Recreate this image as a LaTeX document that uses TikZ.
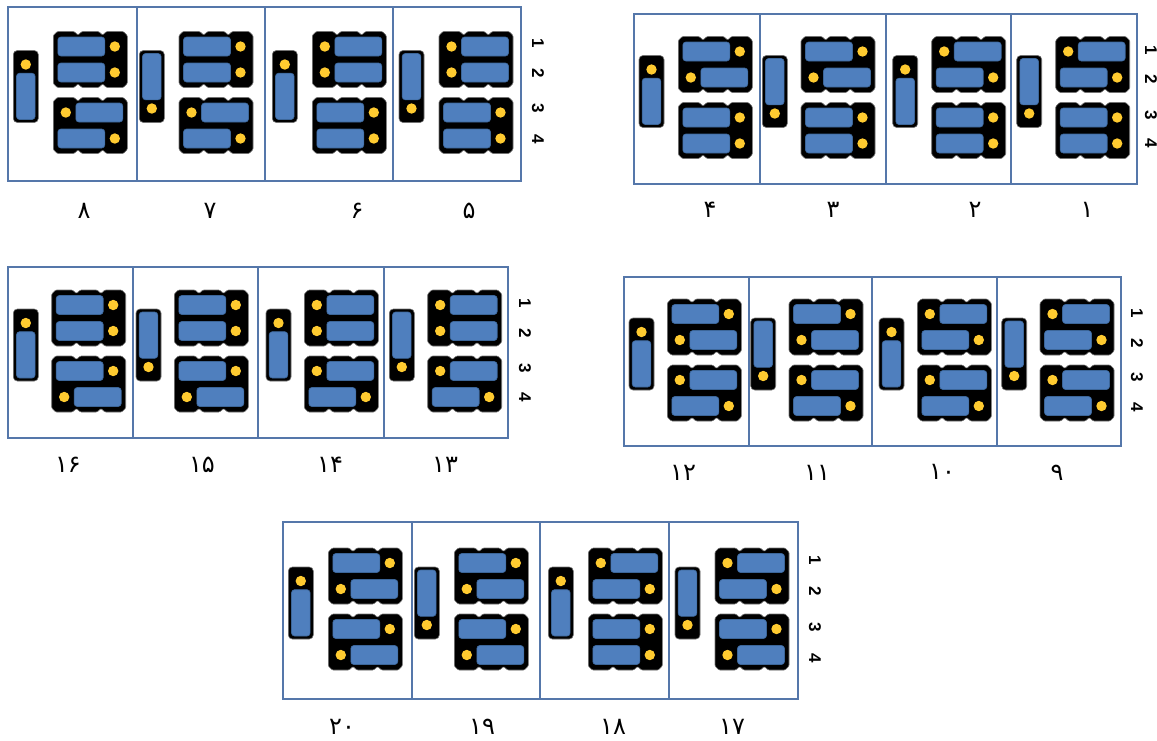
\documentclass[tikz,border=0pt]{standalone}
\usepackage{fontspec}
\setmainfont{Liberation Sans}
\newfontfamily\fa[Script=Arabic]{DejaVu Sans}
\definecolor{pbord}{HTML}{5577AA}
\definecolor{bblue}{HTML}{4F7FBE}
\definecolor{bedge}{HTML}{3C6699}
\definecolor{ydot}{HTML}{FFCB30}
\tikzset{
 panel/.style={draw=pbord, line width=1.2pt},
 hdr/.style={fill=black, draw=black!55, line width=0.6pt, rounded corners=1pt},
 bar/.style={fill=bblue, draw=bedge, line width=0.6pt, rounded corners=3pt},
 pin/.style={fill=ydot},
 rlab/.style={font=\bfseries\fontsize{17}{17}\selectfont, rotate=-90, inner sep=0pt},
 clab/.style={font=\fa\fontsize{24}{24}\selectfont, inner sep=0pt},
}
\newcommand\jmpT[2]{%
 \path[hdr, rounded corners=4pt] (#1,#2-36) rectangle (#1+25,#2+36);
 \path[bar] (#1+3.2,#2-13.3) rectangle (#1+21.8,#2+33);
 \fill[pin] (#1+12.5,#2-22) circle[radius=5.2];
}
\newcommand\jmpB[2]{%
 \path[hdr, rounded corners=4pt] (#1,#2-36) rectangle (#1+25,#2+36);
 \path[bar] (#1+3.2,#2-33) rectangle (#1+21.8,#2+13.3);
 \fill[pin] (#1+12.5,#2+22) circle[radius=5.2];
}
\newcommand\rowR[2]{%
 \path[bar] (#1+4.5,#2-9.5) rectangle (#1+51.5,#2+9.5);
 \fill[pin] (#1+61.5,#2) circle[radius=5.2];
}
\newcommand\rowL[2]{%
 \fill[pin] (#1+12.5,#2) circle[radius=5.2];
 \path[bar] (#1+22.5,#2-9.5) rectangle (#1+69.5,#2+9.5);
}
\newcommand\blk[4]{%
 \path[hdr] (#1,#2-24) -- (#1+4,#2-28) -- (#1+20.7,#2-28) -- (#1+24.7,#2-24.5) -- (#1+28.7,#2-28)
   -- (#1+45.3,#2-28) -- (#1+49.3,#2-24.5) -- (#1+53.3,#2-28) -- (#1+70,#2-28) -- (#1+74,#2-24)
   -- (#1+74,#2+24) -- (#1+70,#2+28) -- (#1+53.3,#2+28) -- (#1+49.3,#2+24.5) -- (#1+45.3,#2+28)
   -- (#1+28.7,#2+28) -- (#1+24.7,#2+24.5) -- (#1+20.7,#2+28) -- (#1+4,#2+28) -- (#1,#2+24) -- cycle;
 \csname row#3\endcsname{#1}{#2-13}%
 \csname row#4\endcsname{#1}{#2+13}%
}
\newcommand\cel[8]{%
 \csname jmp#4\endcsname{#1}{#3-7.5}%
 \blk{#2}{#3-34.5}{#5}{#6}%
 \blk{#2}{#3+31.5}{#7}{#8}%
}
\begin{document}
\begin{tikzpicture}[x=1pt,y=-1pt]
\useasboundingbox (0,0) rectangle (1157,740);
% ---- panel cells 5-8 (top left)
\draw[panel] (8,7) rectangle (521,181);
\draw[panel] (137,7) -- (137,181) (265,7) -- (265,181) (393,7) -- (393,181);
\cel{13.3}{53.3}{94}{T}{R}{R}{L}{R}
\cel{139.3}{179}{94}{B}{R}{R}{L}{R}
\cel{272.3}{312.3}{94}{T}{L}{L}{R}{R}
\cel{399}{439}{94}{B}{L}{L}{R}{R}
\node[rlab] (a1) at (538,43) {1};
\node[rlab] (a2) at (538,73) {2};
\node[rlab] (a3) at (538,108) {3};
\node[rlab] (a4) at (538,139) {4};
\node[clab] (n8) at (84,211) {۸};
\node[clab] (n7) at (210,211) {۷};
\node[clab] (n6) at (357,211) {۶};
\node[clab] (n5) at (469,211) {۵};
% ---- panel cells 1-4 (top right)
\draw[panel] (634,14) rectangle (1137,184);
\draw[panel] (760,14) -- (760,184) (886,14) -- (886,184) (1011,14) -- (1011,184);
\cel{639}{678.3}{99}{T}{R}{L}{R}{R}
\cel{762.3}{801}{99}{B}{R}{L}{R}{R}
\cel{892.7}{931.7}{99}{T}{L}{R}{R}{R}
\cel{1016.7}{1055.7}{99}{B}{L}{R}{R}{R}
\node[rlab] (b1) at (1151,50) {1};
\node[rlab] (b2) at (1151,79) {2};
\node[rlab] (b3) at (1151,115) {3};
\node[rlab] (b4) at (1151,143) {4};
\node[clab] (n4) at (710,210) {۴};
\node[clab] (n3) at (833,210) {۳};
\node[clab] (n2) at (975,210) {۲};
\node[clab] (n1) at (1087,210) {۱};
% ---- panel cells 13-16 (middle left)
\draw[panel] (8,267) rectangle (508,438);
\draw[panel] (133,267) -- (133,438) (258,267) -- (258,438) (384,267) -- (384,438);
\cel{13.3}{51.7}{352.5}{T}{R}{R}{R}{L}
\cel{136}{174.3}{352.5}{B}{R}{R}{R}{L}
\cel{266}{304.3}{352.5}{T}{L}{L}{L}{R}
\cel{389.3}{427.7}{352.5}{B}{L}{L}{L}{R}
\node[rlab] (c1) at (525,303) {1};
\node[rlab] (c2) at (525,333) {2};
\node[rlab] (c3) at (525,368) {3};
\node[rlab] (c4) at (525,397) {4};
\node[clab] (n16) at (68,465) {۱۶};
\node[clab] (n15) at (202,465) {۱۵};
\node[clab] (n14) at (330,465) {۱۴};
\node[clab] (n13) at (445,465) {۱۳};
% ---- panel cells 9-12 (middle right)
\draw[panel] (624,277) rectangle (1121,446);
\draw[panel] (749,277) -- (749,446) (872,277) -- (872,446) (997,277) -- (997,446);
\cel{629}{667.3}{361.5}{T}{R}{L}{L}{R}
\cel{750.7}{789}{361.5}{B}{R}{L}{L}{R}
\cel{879}{917.3}{361.5}{T}{L}{R}{L}{R}
\cel{1001.7}{1040}{361.5}{B}{L}{R}{L}{R}
\node[rlab] (d1) at (1137,313) {1};
\node[rlab] (d2) at (1137,343) {2};
\node[rlab] (d3) at (1137,377) {3};
\node[rlab] (d4) at (1137,407) {4};
\node[clab] (n12) at (683,473) {۱۲};
\node[clab] (n11) at (817,473) {۱۱};
\node[clab] (n10) at (942,472) {۱۰};
\node[clab] (n9) at (1057,473) {۹};
% ---- panel cells 17-20 (bottom)
\draw[panel] (283,522) rectangle (798,699);
\draw[panel] (412,522) -- (412,699) (540,522) -- (540,699) (669,522) -- (669,699);
\cel{288.3}{328.3}{610.5}{T}{R}{L}{R}{L}
\cel{414.3}{454.3}{610.5}{B}{R}{L}{R}{L}
\cel{548.3}{588.3}{610.5}{T}{L}{R}{R}{R}
\cel{675}{715}{610.5}{B}{L}{R}{R}{L}
\node[rlab] (e1) at (815,560) {1};
\node[rlab] (e2) at (815,591) {2};
\node[rlab] (e3) at (815,627) {3};
\node[rlab] (e4) at (815,658) {4};
\node[clab] (n20) at (342,727) {۲۰};
\node[clab] (n19) at (482,727) {۱۹};
\node[clab] (n18) at (613,727) {۱۸};
\node[clab] (n17) at (732,727) {۱۷};
\end{tikzpicture}
\end{document}
